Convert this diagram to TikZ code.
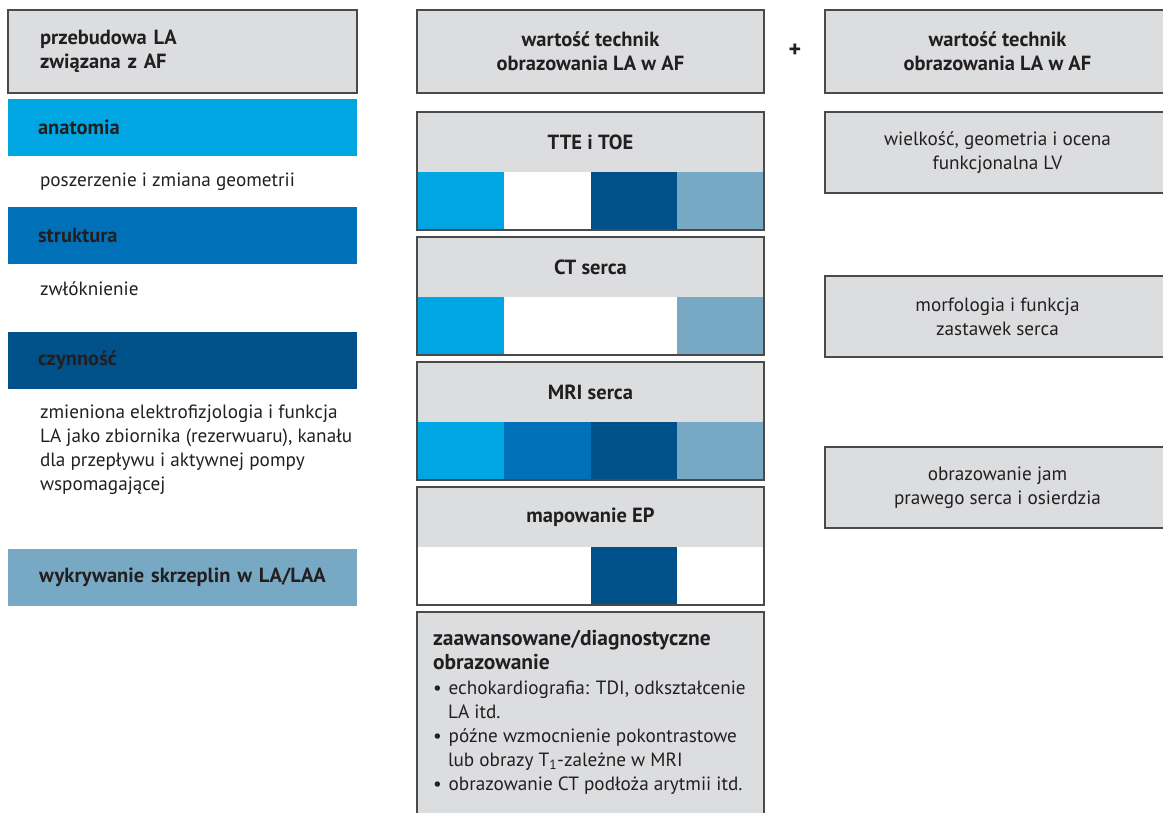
\documentclass[tikz,border=0pt]{standalone}
\usepackage{fontspec}
\setmainfont{PT Sans}
\usetikzlibrary{positioning}
\definecolor{boxgray}{HTML}{DCDDDF}
\definecolor{framegray}{HTML}{4A4A4A}
\definecolor{inkblack}{HTML}{231F20}
\definecolor{skyblue}{HTML}{00A6E2}
\definecolor{midblue}{HTML}{0071B9}
\definecolor{deepblue}{HTML}{005189}
\definecolor{steelblue}{HTML}{78A9C4}

\begin{document}
\begin{tikzpicture}[x=1pt, y=-1pt, text=inkblack, font=\fontsize{19.2}{24}\selectfont, outer sep=0pt, headbox/.style={draw=framegray, line width=1.5pt, fill=boxgray, anchor=north west, minimum height=83pt, font=\fontsize{20.5}{24}\selectfont\bfseries}, bar/.style={anchor=north west, minimum width=349pt, minimum height=57pt, text width=289pt, inner xsep=30pt, align=left, font=\fontsize{20.5}{24}\selectfont\bfseries}, plain/.style={anchor=west, align=left, inner sep=2pt}, techhead/.style={fill=boxgray, minimum width=347pt, minimum height=60pt, inner sep=0pt, font=\fontsize{20.5}{24}\selectfont\bfseries}, cell/.style={minimum width=86.75pt, minimum height=58pt, inner sep=0pt}, frame/.style={draw=framegray, line width=1.5pt}, sidebox/.style={draw=framegray, line width=1.5pt, fill=boxgray, anchor=north west, minimum width=345pt, minimum height=81pt, align=center}]
\clip (0,0) rectangle (1163,812);

% left column
\node[headbox, minimum width=349pt, text width=285pt, inner xsep=32pt, align=left] (remodel) at (8,10) {przebudowa LA\\związana z AF};
\node[bar, fill=skyblue, below right=6pt and 0pt of remodel.south west] (anatomy) {anatomia};
\node[plain] (anatomytext) at (38,182) {poszerzenie i zmiana geometrii};
\node[bar, fill=midblue, below right=51pt and 0pt of anatomy.south west] (structure) {struktura};
\node[plain] (structuretext) at (38,289) {zwłóknienie};
\node[bar, fill=deepblue, below right=68pt and 0pt of structure.south west] (function) {czynność};
\node[plain] (functiontext) at (38,450) {zmieniona elektrofizjologia i funkcja\\LA jako zbiornika (rezerwuaru), kanału\\dla przepływu i aktywnej pompy\\wspomagającej};
\node[bar, fill=steelblue, align=center, below right=160pt and 0pt of function.south west] (thrombus) {wykrywanie skrzeplin w LA/LAA};

% middle column
\node[headbox, minimum width=347pt, align=center] (techniques) at (417,10) {wartość technik\\obrazowania LA w AF};
\node[font=\fontsize{24}{24}\selectfont\bfseries] (plus) at (795,51) {+};

\node[techhead, below right=19pt and 0pt of techniques.south west, anchor=north west] (tte) {TTE i TOE};
\node[cell, fill=skyblue, below right=0pt and 0pt of tte.south west] (tte1) {};
\node[cell, fill=white, right=0pt of tte1] (tte2) {};
\node[cell, fill=deepblue, right=0pt of tte2] (tte3) {};
\node[cell, fill=steelblue, right=0pt of tte3] (tte4) {};
\draw[frame] (tte.north west) rectangle (tte4.south east);

\node[techhead, below right=7pt and 0pt of tte1.south west, anchor=north west] (ct) {CT serca};
\node[cell, fill=skyblue, below right=0pt and 0pt of ct.south west] (ct1) {};
\node[cell, fill=white, right=0pt of ct1] (ct2) {};
\node[cell, fill=white, right=0pt of ct2] (ct3) {};
\node[cell, fill=steelblue, right=0pt of ct3] (ct4) {};
\draw[frame] (ct.north west) rectangle (ct4.south east);

\node[techhead, below right=7pt and 0pt of ct1.south west, anchor=north west] (mri) {MRI serca};
\node[cell, fill=skyblue, below right=0pt and 0pt of mri.south west] (mri1) {};
\node[cell, fill=midblue, right=0pt of mri1] (mri2) {};
\node[cell, fill=deepblue, right=0pt of mri2] (mri3) {};
\node[cell, fill=steelblue, right=0pt of mri3] (mri4) {};
\draw[frame] (mri.north west) rectangle (mri4.south east);

\node[techhead, below right=7pt and 0pt of mri1.south west, anchor=north west] (ep) {mapowanie EP};
\node[cell, fill=white, below right=0pt and 0pt of ep.south west] (ep1) {};
\node[cell, fill=white, right=0pt of ep1] (ep2) {};
\node[cell, fill=deepblue, right=0pt of ep2] (ep3) {};
\node[cell, fill=white, right=0pt of ep3] (ep4) {};
\draw[frame] (ep.north west) rectangle (ep4.south east);

\node[draw=framegray, line width=1.5pt, fill=boxgray, minimum width=347pt, minimum height=230pt, below right=7pt and 0pt of ep1.south west] (advanced) {};
\node[anchor=north west, align=left, inner sep=0pt, below right=18pt and 16pt of advanced.north west] (advancedtext) {{\fontsize{21.5}{24}\selectfont\bfseries zaawansowane/diagnostyczne}\\{\fontsize{21.5}{24}\selectfont\bfseries obrazowanie}\\[1pt]\textbullet\hspace{7pt}echokardiografia: TDI, odkształcenie\\\hspace*{15pt}LA itd.\\\textbullet\hspace{7pt}późne wzmocnienie pokontrastowe\\\hspace*{15pt}lub obrazy T\textsubscript{1}-zależne w MRI\\\textbullet\hspace{7pt}obrazowanie CT podłoża arytmii itd.};

% right column
\node[headbox, minimum width=345pt, align=center] (values) at (825,10) {wartość technik\\obrazowania LA w AF};
\node[sidebox, below right=19pt and 0pt of values.south west] (ventricle) {wielkość, geometria i ocena\\funkcjonalna LV};
\node[sidebox, below right=83pt and 0pt of ventricle.south west] (valves) {morfologia i funkcja\\zastawek serca};
\node[sidebox, below right=90pt and 0pt of valves.south west] (rightheart) {obrazowanie jam\\prawego serca i osierdzia};
\end{tikzpicture}
\end{document}
